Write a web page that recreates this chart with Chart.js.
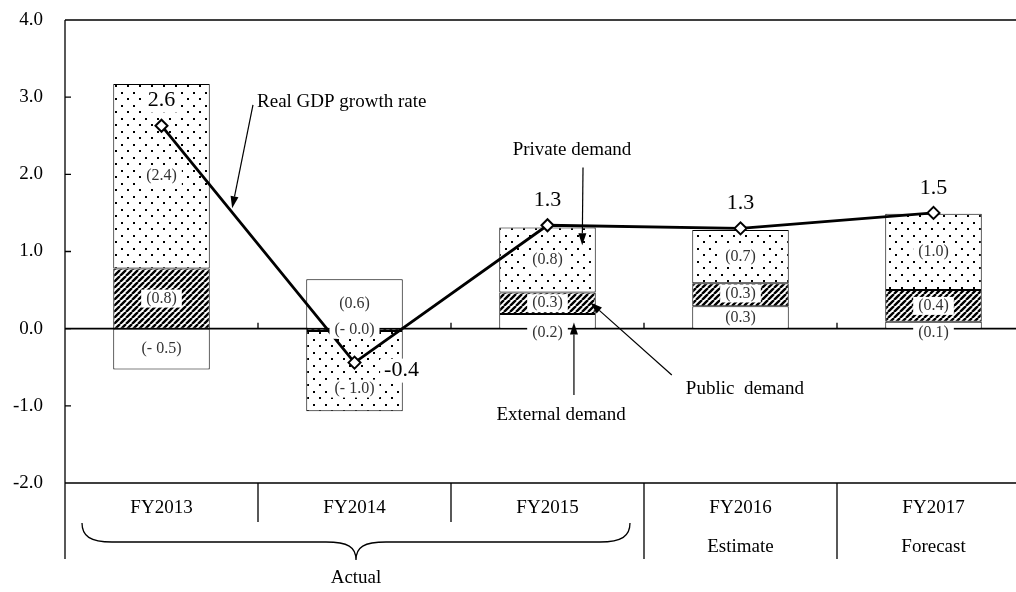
<!DOCTYPE html>
<html>
<head>
<meta charset="utf-8">
<script src="https://cdn.jsdelivr.net/npm/chart.js@4.4.0/dist/chart.umd.min.js"></script>
<style>
html, body { margin: 0; padding: 0; background: #fff; overflow: hidden; }
#wrap { width: 1016px; height: 592px; overflow: hidden; }
canvas { display: block; }
</style>
</head>
<body>
<div id="wrap"><canvas id="gdpChart" width="1040" height="592"></canvas></div>
<script>
const categories = ['FY2013', 'FY2014', 'FY2015', 'FY2016', 'FY2017'];
const periodLabels = ['', '', '', 'Estimate', 'Forecast'];
const actualLabel = 'Actual';
const actualSpan = [0, 2];

// contributions to real GDP growth (% pt)
const externalDemand = [-0.53, 0.64, 0.19, 0.29, 0.09];
const publicDemand = [0.78, -0.03, 0.28, 0.30, 0.41];
const privateDemand = [2.39, -1.04, 0.84, 0.69, 0.99];
const realGdp = [2.63, -0.44, 1.34, 1.30, 1.50];

const yTicks = [-2, -1, 0, 1, 2, 3, 4];

// callouts, in data units: [category index, value]
const callouts = [
    { text: 'Real GDP growth rate', align: 'left', at: [0.495, 2.94], from: [0.474, 2.90], to: [0.366, 1.56] },
    { text: 'Private demand', align: 'center', at: [2.127, 2.31], from: [2.184, 2.09], to: [2.180, 1.08] },
    { text: 'Public  demand', align: 'center', at: [3.023, -0.78], from: [2.644, -0.60], to: [2.222, 0.34] },
    { text: 'External demand', align: 'center', at: [2.07, -1.12], from: [2.137, -0.86], to: [2.137, 0.08] }
];

const SERIF = '"Liberation Serif", "Times New Roman", serif';

const makeDots = () => {
    const c = document.createElement('canvas');
    c.width = 12;
    c.height = 13;
    const g = c.getContext('2d');
    g.fillStyle = '#fff';
    g.fillRect(0, 0, 12, 13);
    g.fillStyle = '#000';
    g.fillRect(1, 1, 2, 2);
    g.fillRect(7, 7, 2, 2);
    return g.createPattern(c, 'repeat');
}

const makeHatch = () => {
    const s = 6;
    const c = document.createElement('canvas');
    c.width = s;
    c.height = s;
    const g = c.getContext('2d');
    g.fillStyle = '#fff';
    g.fillRect(0, 0, s, s);
    g.strokeStyle = '#000';
    g.lineWidth = 2.4;
    g.beginPath();
    for (let k = -1; k <= 1; k++) {
        g.moveTo(k * s, s);
        g.lineTo(k * s + s, 0);
    }
    g.stroke();
    return g.createPattern(c, 'repeat');
}

const fmtPart = (v) => v < 0 ? '(- ' + Math.abs(v).toFixed(1) + ')' : '(' + v.toFixed(1) + ')';

const boxedText = (ctx, text, x, y, padX, h) => {
    const w = ctx.measureText(text).width;
    ctx.fillStyle = '#fff';
    ctx.fillRect(x - w / 2 - padX, y - h / 2, w + padX * 2, h);
    ctx.fillStyle = ctx._labelColor || '#000';
    ctx.fillText(text, x, y);
}

const framePlugin = {
    id: 'frame',
    beforeDatasetsDraw(chart) {
        const { ctx, chartArea: a, scales: { x, y } } = chart;
        const zeroY = y.getPixelForValue(0);
        ctx.save();
        ctx.strokeStyle = '#000';
        ctx.lineWidth = 1.3;
        ctx.beginPath();
        ctx.moveTo(a.left, a.top);
        ctx.lineTo(a.right, a.top);
        ctx.moveTo(a.left, a.bottom);
        ctx.lineTo(a.right, a.bottom);
        ctx.moveTo(a.left, a.top);
        ctx.lineTo(a.left, a.bottom + 76);
        yTicks.forEach((v) => {
            const py = y.getPixelForValue(v);
            ctx.moveTo(a.left, py);
            ctx.lineTo(a.left + 6, py);
        });
        for (let i = 1; i < categories.length; i++) {
            const bx = (x.getPixelForValue(i - 1) + x.getPixelForValue(i)) / 2;
            ctx.moveTo(bx, zeroY);
            ctx.lineTo(bx, zeroY - 6);
        }
        ctx.stroke();
        ctx.lineWidth = 1.8;
        ctx.beginPath();
        ctx.moveTo(a.left, zeroY);
        ctx.lineTo(a.right, zeroY);
        ctx.stroke();
        ctx.restore();
    }
};

const labelPlugin = {
    id: 'partLabels',
    afterDatasetsDraw(chart) {
        const { ctx, scales: { x, y } } = chart;
        const zeroY = y.getPixelForValue(0);
        const lineMeta = chart.getDatasetMeta(0);
        const parts = [1, 2, 3];
        ctx.save();
        ctx.textAlign = 'center';
        ctx.textBaseline = 'middle';

        categories.forEach((cat, i) => {
            const pointY = lineMeta.data[i].y;
            const items = parts.map((di) => {
                const el = chart.getDatasetMeta(di).data[i];
                const v = chart.data.datasets[di].data[i];
                const top = Math.min(el.y, el.base);
                const bottom = Math.max(el.y, el.base);
                let ly = (top + bottom) / 2;
                if (v > 0 && bottom - top < 16 && Math.abs(bottom - zeroY) < 2) ly = zeroY + 4;
                if (Math.abs(ly - pointY) < 18) ly = pointY + 26;
                return { v: v, x: el.x, y: ly };
            });
            const pos = items.filter((it) => it.v > 0).sort((a, b) => b.y - a.y);
            for (let k = 1; k < pos.length; k++) {
                if (pos[k - 1].y - pos[k].y < 24) pos[k].y = pos[k - 1].y - 24;
            }
            ctx.font = '16px ' + SERIF;
            ctx._labelColor = '#333';
            items.forEach((it) => boxedText(ctx, fmtPart(it.v), it.x, it.y, 5, 18));
        });

        // growth rate values
        ctx.font = '22px ' + SERIF;
        ctx._labelColor = '#000';
        lineMeta.data.forEach((pt, i) => {
            const v = realGdp[i];
            if (v >= 0) {
                boxedText(ctx, v.toFixed(1), pt.x, pt.y - 25, 4, 24);
            } else {
                boxedText(ctx, v.toFixed(1), pt.x + 47, pt.y + 8, 4, 24);
            }
        });

        // callouts with arrows
        ctx.font = '19px ' + SERIF;
        ctx.fillStyle = '#000';
        ctx.strokeStyle = '#000';
        ctx.lineWidth = 1.2;
        callouts.forEach((c) => {
            ctx.textAlign = c.align;
            ctx.fillText(c.text, x.getPixelForValue(c.at[0]), y.getPixelForValue(c.at[1]));
            const x1 = x.getPixelForValue(c.from[0]);
            const y1 = y.getPixelForValue(c.from[1]);
            const x2 = x.getPixelForValue(c.to[0]);
            const y2 = y.getPixelForValue(c.to[1]);
            const ang = Math.atan2(y2 - y1, x2 - x1);
            const len = 12;
            const half = 4;
            const bx = x2 - len * Math.cos(ang);
            const by = y2 - len * Math.sin(ang);
            ctx.beginPath();
            ctx.moveTo(x1, y1);
            ctx.lineTo(bx, by);
            ctx.stroke();
            ctx.beginPath();
            ctx.moveTo(x2, y2);
            ctx.lineTo(bx + half * Math.sin(ang), by - half * Math.cos(ang));
            ctx.lineTo(bx - half * Math.sin(ang), by + half * Math.cos(ang));
            ctx.closePath();
            ctx.fill();
        });
        ctx.restore();
    }
};

const tablePlugin = {
    id: 'categoryTable',
    afterDraw(chart) {
        const { ctx, chartArea: a, scales: { x } } = chart;
        const b = a.bottom;
        const step = x.getPixelForValue(1) - x.getPixelForValue(0);
        ctx.save();
        ctx.fillStyle = '#000';
        ctx.strokeStyle = '#000';
        ctx.lineWidth = 1.3;
        ctx.font = '19px ' + SERIF;
        ctx.textAlign = 'center';
        ctx.textBaseline = 'middle';
        categories.forEach((c, i) => {
            const cx = x.getPixelForValue(i);
            ctx.fillText(c, cx, b + 25);
            if (periodLabels[i]) ctx.fillText(periodLabels[i], cx, b + 64);
        });
        ctx.beginPath();
        for (let i = 1; i < categories.length; i++) {
            const bx = x.getPixelForValue(i) - step / 2;
            const inside = i <= actualSpan[1];
            ctx.moveTo(bx, b);
            ctx.lineTo(bx, b + (inside ? 39 : 76));
        }
        ctx.stroke();

        // brace under the actual years
        const left = x.getPixelForValue(actualSpan[0]) - step / 2 + 17;
        const right = x.getPixelForValue(actualSpan[1]) + step / 2 - 14;
        const mid = (left + right) / 2;
        const t = b + 40, m = b + 59, tip = b + 77;
        ctx.beginPath();
        ctx.moveTo(left, t);
        ctx.bezierCurveTo(left, m - 6, left + 8, m, left + 30, m);
        ctx.lineTo(mid - 30, m);
        ctx.bezierCurveTo(mid - 8, m, mid, m + 5, mid, tip);
        ctx.moveTo(mid, tip);
        ctx.bezierCurveTo(mid, m + 5, mid + 8, m, mid + 30, m);
        ctx.lineTo(right - 30, m);
        ctx.bezierCurveTo(right - 8, m, right, m - 6, right, t);
        ctx.stroke();
        ctx.fillText(actualLabel, mid, b + 95);
        ctx.restore();
    }
};

const ctx = document.getElementById('gdpChart').getContext('2d');
const gdpChart = new Chart(ctx, {
    data: {
        labels: categories,
        datasets: [
            {
                type: 'line',
                label: 'Real GDP growth rate',
                data: realGdp,
                borderColor: '#000',
                borderWidth: 2.8,
                tension: 0,
                pointStyle: 'rectRot',
                pointRadius: 6,
                pointBorderWidth: 2,
                pointBackgroundColor: '#fff',
                pointBorderColor: '#000',
                stack: 'gdp',
                order: 0
            },
            {
                type: 'bar',
                label: 'External demand',
                data: externalDemand,
                backgroundColor: '#fff',
                borderColor: '#000',
                borderWidth: 1,
                borderSkipped: false,
                stack: 'demand',
                order: 1
            },
            {
                type: 'bar',
                label: 'Public demand',
                data: publicDemand,
                backgroundColor: makeHatch(),
                borderColor: '#000',
                borderWidth: 1,
                borderSkipped: false,
                stack: 'demand',
                order: 1
            },
            {
                type: 'bar',
                label: 'Private demand',
                data: privateDemand,
                backgroundColor: makeDots(),
                borderColor: '#000',
                borderWidth: 1,
                borderSkipped: false,
                stack: 'demand',
                order: 1
            }
        ]
    },
    options: {
        responsive: false,
        animation: false,
        devicePixelRatio: 1,
        layout: { padding: { top: 20, right: 10, bottom: 109, left: 0 } },
        datasets: {
            bar: { categoryPercentage: 0.5, barPercentage: 1 }
        },
        plugins: {
            legend: { display: false },
            tooltip: { enabled: false }
        },
        scales: {
            x: {
                display: false,
                stacked: true,
                offset: true
            },
            y: {
                stacked: true,
                min: -2,
                max: 4,
                afterBuildTicks: (scale) => {
                    scale.ticks = yTicks.map((v) => ({ value: v }));
                },
                afterFit: (scale) => {
                    scale.width = 65;
                    scale.paddingTop = 0;
                    scale.paddingBottom = 0;
                },
                grid: { display: false, drawTicks: false },
                border: { display: false },
                ticks: {
                    padding: 22,
                    color: '#000',
                    font: { family: SERIF, size: 19 },
                    callback: (v) => Number(v).toFixed(1)
                }
            }
        }
    },
    plugins: [framePlugin, labelPlugin, tablePlugin]
});
</script>
</body>
</html>
